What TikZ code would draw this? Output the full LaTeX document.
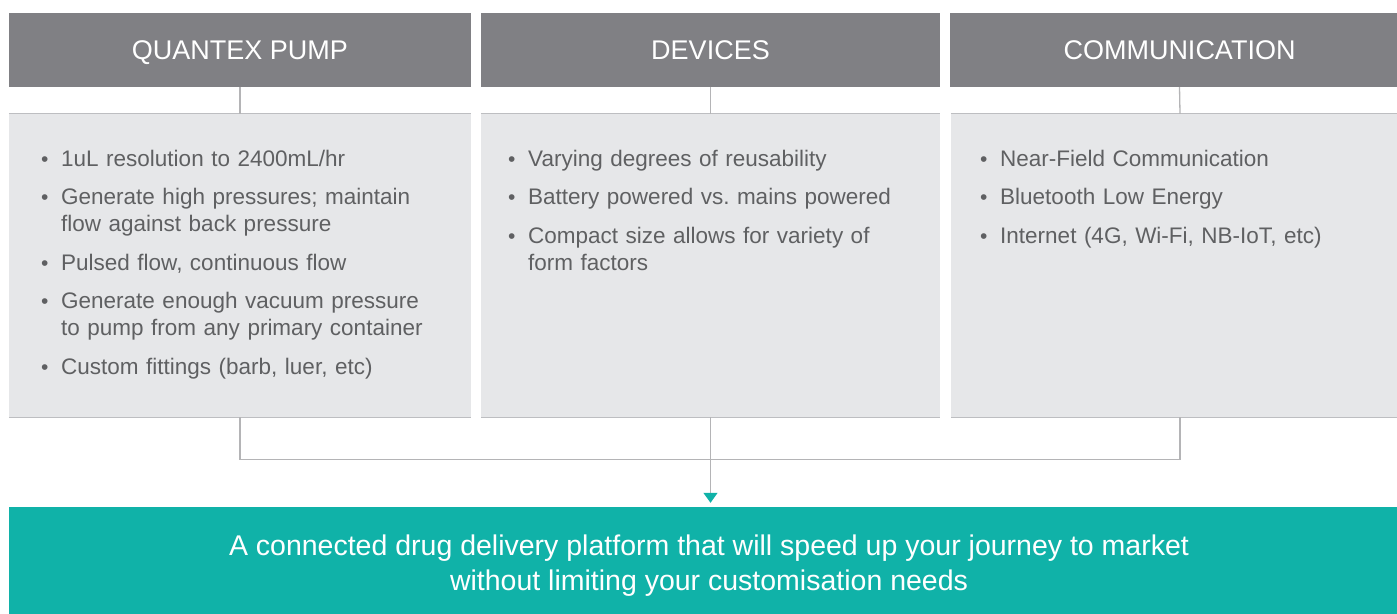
\documentclass[tikz,border=0pt]{standalone}
\usepackage{fontspec}
\setmainfont{Liberation Sans}
\usepackage{enumitem}
\usetikzlibrary{positioning}
\usetikzlibrary{arrows.meta}

\definecolor{headgray}{HTML}{808084}
\definecolor{bodygray}{HTML}{E6E7E9}
\definecolor{edgegray}{HTML}{BDBEC1}
\definecolor{linegray}{HTML}{B4B4B6}
\definecolor{textgray}{HTML}{5F6062}
\definecolor{platteal}{HTML}{10B2A8}

% bullet list used inside the panels
\newlist{featlist}{itemize}{1}
\setlist[featlist]{
	label={\raisebox{0pt}{\fontsize{21}{21}\selectfont\textbullet}},
	leftmargin=20pt, labelwidth=10pt, labelsep=10pt, align=left,
	topsep=0pt, partopsep=0pt, parsep=0pt, itemsep=11.5pt}

\begin{document}
\begin{tikzpicture}[x=1pt,y=-1pt,
		head/.style={
			fill=headgray,
			text=white,
			minimum height=74pt,
			inner sep=0pt,
			text height=19.5pt,
			text depth=0pt,
			font=\fontsize{27}{32}\selectfont,
		},
		panel/.style={
			fill=bodygray,
			minimum height=303pt,
			inner sep=0pt,
		},
		feats/.style={
			anchor=north west,
			inner sep=0pt,
			text width=440pt,
			text=textgray,
			font=\fontsize{22.5}{27}\selectfont,
		},
		link/.style={draw=linegray, line width=1.3pt}]
		\clip (0,0) rectangle (1397,613);
		
		% column headers
		\node[head, minimum width=462pt] (head1) at (240,50) {QUANTEX PUMP};
		\node[head, minimum width=459pt] (head2) at (710.5,50) {DEVICES};
		\node[head, minimum width=459pt] (head3) at (1179.5,50) {COMMUNICATION};
		
		% panels below the headers
		\node[panel, minimum width=462pt] (panel1) at (240,265.5) {};
		\node[panel, minimum width=459pt] (panel2) at (710.5,265.5) {};
		\node[panel, minimum width=458pt] (panel3) at (1180,265.5) {};
		\foreach \i in {1,2,3} {
			\draw[edgegray, line width=1.2pt] (panel\i.north west) -- (panel\i.north east);
			\draw[edgegray, line width=1.2pt] (panel\i.south west) -- (panel\i.south east);
			\draw[link] (head\i.south) -- (panel\i.north);
		}
		
		\node[feats] (list1) at (41,139) {
			\begin{featlist}
				\item 1uL resolution to 2400mL/hr
				\item Generate high pressures; maintain\newline flow against back pressure
				\item Pulsed flow, continuous flow
				\item Generate enough vacuum pressure\newline to pump from any primary container
				\item Custom fittings (barb, luer, etc)
			\end{featlist}};
		\node[feats] (list2) at (508,139) {
			\begin{featlist}
				\item Varying degrees of reusability
				\item Battery powered vs.\ mains powered
				\item Compact size allows for variety of\newline form factors
			\end{featlist}};
		\node[feats] (list3) at (980,139) {
			\begin{featlist}
				\item Near-Field Communication
				\item Bluetooth Low Energy
				\item Internet (4G, Wi-Fi, NB-IoT, etc)
			\end{featlist}};
		
		% result bar
		\node[fill=platteal, text=white, minimum width=1400pt, minimum height=118pt,
			inner sep=0pt, align=center, font=\fontsize{28.5}{35}\selectfont] (plat) at (709,566)
			{A connected drug delivery platform that will speed up your journey to market\\
			without limiting your customisation needs};
		
		% connectors into the result bar
		\draw[link] (panel1.south) --++(0,42) -| (panel3.south);
		\draw[link, -{Triangle[width=14pt, length=10pt, color=platteal]}, shorten >=4pt]
			(panel2.south) -- (panel2.south |- plat.north);
	\end{tikzpicture}
\end{document}
